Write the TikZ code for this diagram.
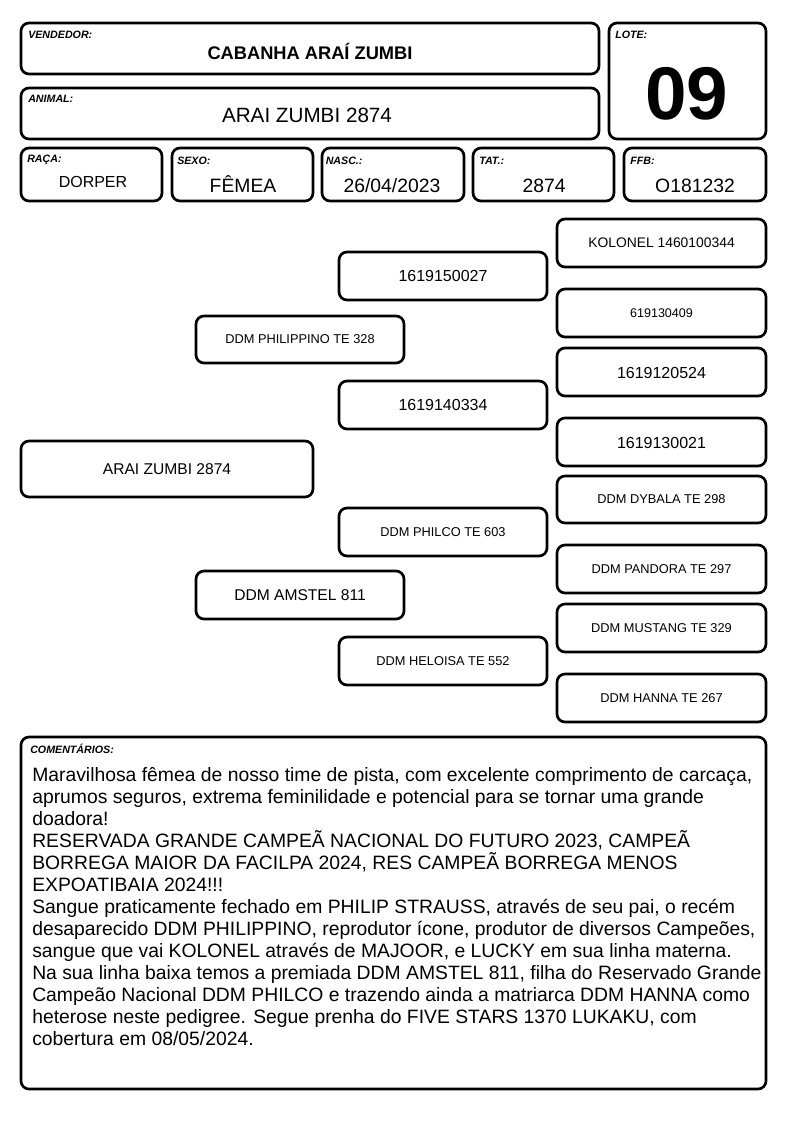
\documentclass[tikz,border=0pt]{standalone}
\usepackage{fontspec}
\setmainfont{Liberation Sans}
\usetikzlibrary{fit}
\tikzset{
  box/.style={draw, line width=2pt, rounded corners=6pt, inner sep=0pt},
  lbl/.style={anchor=base west, inner sep=0pt, font=\fontsize{8}{9}\selectfont\bfseries\itshape},
  val/.style={anchor=base, inner sep=0pt, font=\fontsize{14.5}{16}\selectfont},
  ptxt/.style={anchor=center, inner sep=0pt},
  pbig/.style={ptxt, font=\fontsize{12}{14}\selectfont},
  pmid/.style={ptxt, font=\fontsize{11.7}{14}\selectfont},
  psmall/.style={ptxt, font=\fontsize{9.6}{12}\selectfont},
}
\begin{document}
\begin{tikzpicture}[x=0.75pt,y=-0.75pt]
\useasboundingbox (0,0) rectangle (794,1123);

% header
\node[box, fit={(21,23)(599,74)}] (vend) {};
\node[lbl] (vendL) at (28,39) {VENDEDOR:};
\node[val, font=\fontsize{13.7}{16}\selectfont\bfseries] (vendV) at (310,60) {CABANHA ARAÍ ZUMBI};

\node[box, fit={(21,88)(599,139)}] (anim) {};
\node[lbl] (animL) at (28,103) {ANIMAL:};
\node[val, font=\fontsize{15.5}{18}\selectfont] (animV) at (307,122.5) {ARAI ZUMBI 2874};

\node[box, fit={(609,23)(766,139)}] (lote) {};
\node[lbl] (loteL) at (615,39) {LOTE:};
\node[val, font=\fontsize{56}{60}\selectfont\bfseries] (loteV) at (687,120) {09};

\node[box, fit={(21,148)(162,201)}] (raca) {};
\node[lbl] (racaL) at (27,162.5) {RAÇA:};
\node[val, font=\fontsize{12}{14}\selectfont] (racaV) at (93,188) {DORPER};

\node[box, fit={(172,148)(313,201)}] (sexo) {};
\node[lbl] (sexoL) at (177,165) {SEXO:};
\node[val] (sexoV) at (243,193) {FÊMEA};

\node[box, fit={(322,148)(464,201)}] (nasc) {};
\node[lbl] (nascL) at (325.5,165) {NASC.:};
\node[val] (nascV) at (392,193) {26/04/2023};

\node[box, fit={(473,148)(614,201)}] (tat) {};
\node[lbl] (tatL) at (479,165) {TAT.:};
\node[val] (tatV) at (544,193) {2874};

\node[box, fit={(624,148)(766,201)}] (ffb) {};
\node[lbl] (ffbL) at (630,165) {FFB:};
\node[val] (ffbV) at (695,193) {O181232};

% pedigree boxes
\node[box, fit={(21,441)(313,497)}] (p0) {};
\node[box, fit={(196,316)(404,363)}] (p1) {};
\node[box, fit={(196,571)(404,619)}] (p2) {};
\node[box, fit={(339,252)(547,300)}] (p11) {};
\node[box, fit={(339,381)(547,429)}] (p12) {};
\node[box, fit={(339,508)(547,556)}] (p21) {};
\node[box, fit={(339,637)(547,685)}] (p22) {};
\node[box, fit={(557,219)(766,267)}] (p111) {};
\node[box, fit={(557,289)(766,337)}] (p112) {};
\node[box, fit={(557,348)(766,396)}] (p121) {};
\node[box, fit={(557,418)(766,466)}] (p122) {};
\node[box, fit={(557,476)(766,523)}] (p211) {};
\node[box, fit={(557,545)(766,593)}] (p212) {};
\node[box, fit={(557,604)(766,652)}] (p221) {};
\node[box, fit={(557,674)(766,722)}] (p222) {};

% pedigree texts
\node[pmid] (p0t) at (p0.center) {ARAI ZUMBI 2874};
\node[psmall] (p1t) at (p1.center) {DDM PHILIPPINO TE 328};
\node[pmid] (p2t) at (p2.center) {DDM AMSTEL 811};
\node[pbig] (p11t) at (p11.center) {1619150027};
\node[pbig] (p12t) at (p12.center) {1619140334};
\node[psmall] (p21t) at (p21.center) {DDM PHILCO TE 603};
\node[psmall] (p22t) at (p22.center) {DDM HELOISA TE 552};
\node[ptxt, font=\fontsize{10.4}{12}\selectfont] (p111t) at (p111.center) {KOLONEL 1460100344};
\node[ptxt, font=\fontsize{9.4}{12}\selectfont] (p112t) at (p112.center) {619130409};
\node[pbig] (p121t) at ([yshift=-0.75pt]p121.center) {1619120524};
\node[pbig] (p122t) at ([yshift=-0.75pt]p122.center) {1619130021};
\node[psmall] (p211t) at (p211.center) {DDM DYBALA TE 298};
\node[psmall] (p212t) at (p212.center) {DDM PANDORA TE 297};
\node[psmall] (p221t) at (p221.center) {DDM MUSTANG TE 329};
\node[psmall] (p222t) at (p222.center) {DDM HANNA TE 267};

% comments
\node[box, fit={(21,737)(766,1089)}] (com) {};
\node[lbl] (comL) at (30,753) {COMENTÁRIOS:};
\node[anchor=base west, inner sep=0pt, align=left, font=\fontsize{14.5}{16.5}\selectfont] (comT) at (32,1045) {%
Maravilhosa fêmea de nosso time de pista, com excelente comprimento de carcaça,\\
aprumos seguros, extrema feminilidade e potencial para se tornar uma grande\\
doadora!\\
RESERVADA GRANDE CAMPEÃ NACIONAL DO FUTURO 2023, CAMPEÃ\\
BORREGA MAIOR DA FACILPA 2024, RES CAMPEÃ BORREGA MENOS\\
EXPOATIBAIA 2024!!!\\
Sangue praticamente fechado em PHILIP STRAUSS, através de seu pai, o recém\\
desaparecido DDM PHILIPPINO, reprodutor ícone, produtor de diversos Campeões,\\
sangue que vai KOLONEL através de MAJOOR, e LUCKY em sua linha materna.\\
Na sua linha baixa temos a premiada DDM AMSTEL 811, filha do Reservado Grande\\
Campeão Nacional DDM PHILCO e trazendo ainda a matriarca DDM HANNA como\\
heterose neste pedigree. Segue prenha do FIVE STARS 1370 LUKAKU, com\\
cobertura em 08/05/2024.};
\end{tikzpicture}
\end{document}
